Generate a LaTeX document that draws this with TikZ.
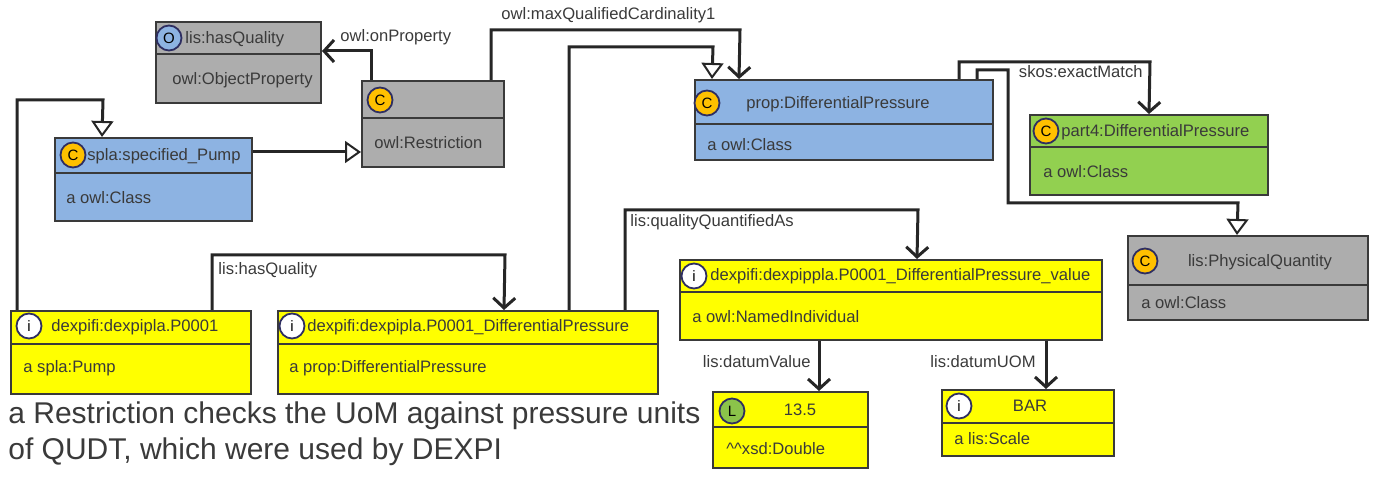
\documentclass[tikz,border=0pt]{standalone}
\usepackage{fontspec}
\setmainfont{Liberation Sans}
\usetikzlibrary{arrows.meta,fit,calc}

\definecolor{greyC}{HTML}{ADADAD}
\definecolor{blueC}{HTML}{8DB3E2}
\definecolor{greenC}{HTML}{92D050}
\definecolor{yellowC}{HTML}{FFFF00}
\definecolor{orangeC}{HTML}{FFC000}
\definecolor{litC}{HTML}{8BC34A}
\definecolor{inkC}{HTML}{3A3A3A}

\tikzset{
  box/.style={draw=inkC, line width=1pt, inner sep=0pt},
  icon/.style={circle, draw=inkC!80!blue, line width=0.9pt, minimum size=12.5pt, inner sep=0pt, font=\fontsize{7.5}{8}\selectfont},
  txt/.style={text=inkC, font=\fontsize{8.3}{9.5}\selectfont, inner sep=1pt},
  lbl/.style={text=inkC, font=\fontsize{8.3}{9.5}\selectfont, inner sep=1pt},
  rel/.style={draw=black!85, line width=1.5pt, -{Straight Barb[length=5pt,width=11pt,line width=1.5pt]}},
  isa/.style={draw=black!85, line width=1.5pt, -{Triangle[open,length=8pt,width=11pt,fill=white,line width=1pt]}}
}

\newcommand\entity[6]{\node[box, fill=#6, fit={(#2,#3) (#4,#5)}] (#1) {};}

\begin{document}
\begin{tikzpicture}[x=0.5pt, y=-0.5pt]
\useasboundingbox (0,0) rectangle (1391,480);

% boxes
\entity{hasq}{156}{22}{321}{103}{greyC}
\draw[box] (156,54) -- (321,54);
\node[icon, fill=blueC] (ihasq) at (169,38) {O};
\node[txt, anchor=west] (thasq) at (183,39) {lis:hasQuality};
\node[txt, anchor=west] (bhasq) at (170,80) {owl:ObjectProperty};

\entity{restr}{362}{81}{504}{167}{greyC}
\draw[box] (362,118) -- (504,118);
\node[icon, fill=orangeC] (irestr) at (380,100) {C};
\node[txt, anchor=west] (brestr) at (372,143) {owl:Restriction};

\entity{pump}{55}{138}{252}{221}{blueC}
\draw[box] (55,173) -- (252,173);
\node[icon, fill=orangeC] (ipump) at (73,155) {C};
\node[txt, anchor=west] (tpump) at (85,156) {spla:specified\_Pump};
\node[txt, anchor=west] (bpump) at (64,198) {a owl:Class};

\entity{prop}{695}{80}{993}{160}{blueC}
\draw[box] (695,124) -- (993,124);
\node[icon, fill=orangeC] (iprop) at (707,103) {C};
\node[txt] (tprop) at (838,104) {prop:DifferentialPressure};
\node[txt, anchor=west] (bprop) at (705,145) {a owl:Class};

\entity{part}{1030}{115}{1268}{195}{greenC}
\draw[box] (1030,147) -- (1268,147);
\node[icon, fill=orangeC] (ipart) at (1046,131) {C};
\node[txt, anchor=west] (tpart) at (1059,132) {part4:DifferentialPressure};
\node[txt, anchor=west] (bpart) at (1041,172) {a owl:Class};

\entity{phys}{1128}{236}{1368}{320}{greyC}
\draw[box] (1128,285) -- (1368,285);
\node[icon, fill=orangeC] (iphys) at (1145,261) {C};
\node[txt] (tphys) at (1260,262) {lis:PhysicalQuantity};
\node[txt, anchor=west] (bphys) at (1139,303) {a owl:Class};

\entity{pone}{11}{311}{251}{394}{yellowC}
\draw[box] (11,344) -- (251,344);
\node[icon, fill=white] (ipone) at (29,326) {i};
\node[txt, anchor=west] (tpone) at (49,327) {dexpifi:dexpipla.P0001};
\node[txt, anchor=west] (bpone) at (21,368) {a spla:Pump};

\entity{pdp}{278}{311}{658}{394}{yellowC}
\draw[box] (278,344) -- (658,344);
\node[icon, fill=white] (ipdp) at (292,326) {i};
\node[txt, anchor=west] (tpdp) at (305,327) {dexpifi:dexpipla.P0001\_DifferentialPressure};
\node[txt, anchor=west] (bpdp) at (287,368) {a prop:DifferentialPressure};

\entity{val}{680}{260}{1102}{340}{yellowC}
\draw[box] (680,292) -- (1102,292);
\node[icon, fill=white] (ival) at (694,276) {i};
\node[txt, anchor=west] (tval) at (708,276) {dexpifi:dexpippla.P0001\_DifferentialPressure\_value};
\node[txt, anchor=west] (bval) at (690,317) {a owl:NamedIndividual};

\entity{lit}{713}{392}{868}{468}{yellowC}
\draw[box] (713,427) -- (868,427);
\node[icon, fill=litC] (ilit) at (732,411) {L};
\node[txt] (tlit) at (800,410) {13.5};
\node[txt, anchor=west] (blit) at (724,449) {\^{}\^{}xsd:Double};

\entity{bar}{942}{390}{1114}{456}{yellowC}
\draw[box] (942,423) -- (1114,423);
\node[icon, fill=white] (ibar) at (959,406) {i};
\node[txt] (tbar) at (1030,406) {BAR};
\node[txt, anchor=west] (bbar) at (952,439) {a lis:Scale};

% connectors
\draw[rel] ($(restr.north west)+(10,0)$) |- ($(hasq.north east)+(0,30)$);
\node[lbl, anchor=west] (lonprop) at (338,37) {owl:onProperty};
\draw[rel] ($(restr.north west)+(130,0)$) |- (740,30) -- ($(prop.north west)+(45,0)$);
\node[lbl, anchor=west] (lcard) at (499,15) {owl:maxQualifiedCardinality1};
\draw[isa] (pump.east |- 0,152) -- (restr.west |- 0,152);
\draw[isa] ($(pone.north west)+(7,0)$) |- (103,100) -- ($(pump.north west)+(48,0)$);
\draw[rel] ($(pone.north west)+(202,0)$) |- (505,255) -- ($(pdp.north west)+(227,0)$);
\node[lbl, anchor=west] (lhasq) at (216,270) {lis:hasQuality};
\draw[isa] ($(pdp.north west)+(292,0)$) |- (713,47) -- ($(prop.north west)+(18,0)$);
\draw[rel] ($(pdp.north west)+(348,0)$) |- (918,210) -- ($(val.north west)+(238,0)$);
\node[lbl, anchor=west] (lqq) at (628,222) {lis:qualityQuantifiedAs};
\draw[rel] ($(prop.north west)+(265,0)$) |- (1150,62) -- ($(part.north west)+(120,0)$);
\node[lbl, anchor=east] (lexact) at (1145,72) {skos:exactMatch};
\draw[isa] ($(prop.north west)+(283,0)$) |- (1008,70) |- (1238,203) -- ($(phys.north west)+(110,0)$);
\draw[rel] ($(val.south west)+(140,0)$) -- ($(lit.north west)+(107,0)$);
\node[lbl, anchor=east] (ldv) at (813,362) {lis:datumValue};
\draw[rel] ($(val.south west)+(367,0)$) -- ($(bar.north west)+(105,0)$);
\node[lbl, anchor=east] (luom) at (1038,362) {lis:datumUOM};

% note
\node[text=inkC, font=\fontsize{15}{18}\selectfont, align=left, anchor=north west, inner sep=0pt] (note) at (8,401) {a Restriction checks the UoM against pressure units\\of QUDT, which were used by DEXPI};
\end{tikzpicture}
\end{document}
